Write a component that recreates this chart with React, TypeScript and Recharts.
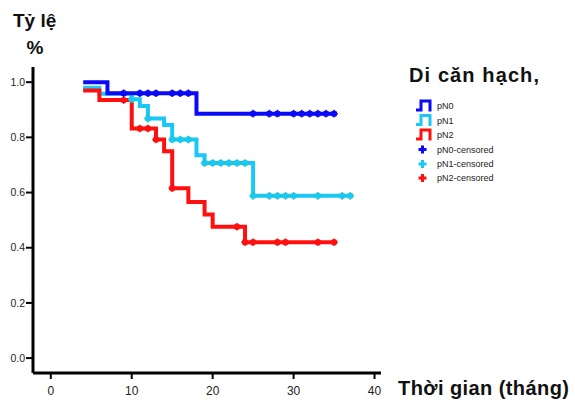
import React from 'react';
import { ComposedChart, Line, Scatter, XAxis, YAxis, Legend } from 'recharts';

// ---- data ----
const xTicks = [0, 10, 20, 30, 40];
const yTicks = [0, 0.2, 0.4, 0.6, 0.8, 1.0];

const yTitleTop = 'Tỷ lệ';
const yTitleBottom = '%';
const xTitle = 'Thời gian (tháng)';
const legendTitle = 'Di căn hạch,';

const seriesNames = ['pN0', 'pN1', 'pN2'];
const censorNames = ['pN0-censored', 'pN1-censored', 'pN2-censored'];

const pN0Times = [4, 7, 18, 35];
const pN0Surv = [1.0, 0.96, 0.886, 0.886];
const pN0CensorTimes = [9, 11, 12, 13, 15, 16, 17, 25, 27, 28, 30, 31, 32, 33, 34, 35];

const pN1Times = [4, 6, 10, 11, 12, 14, 15, 18, 19, 25, 37];
const pN1Surv = [0.98, 0.958, 0.938, 0.914, 0.868, 0.845, 0.792, 0.735, 0.707, 0.588, 0.588];
const pN1CensorTimes = [10, 12, 15, 16, 17, 19, 20, 21, 22, 23, 24, 25, 27, 28, 29, 30, 33, 36, 37];

const pN2Times = [4, 6, 10, 13, 14, 15, 17, 19, 20, 24, 35];
const pN2Surv = [0.97, 0.935, 0.832, 0.792, 0.75, 0.616, 0.566, 0.52, 0.476, 0.42, 0.42];
const pN2CensorTimes = [9, 11, 12, 13, 15, 23, 24, 25, 28, 29, 33, 35];

// ---- helpers ----
const toPoints = (times: number[], surv: number[]) => times.map((t, i) => ({ t, s: surv[i] }));
const survAt = (times: number[], surv: number[], t: number) => {
  let v = surv[0];
  times.forEach((tt, i) => {
    if (tt <= t) v = surv[i];
  });
  return v;
};
const toCensors = (times: number[], surv: number[], cts: number[]) =>
  cts.map((t) => ({ t, s: survAt(times, surv, t) }));

const pN0Data = toPoints(pN0Times, pN0Surv);
const pN1Data = toPoints(pN1Times, pN1Surv);
const pN2Data = toPoints(pN2Times, pN2Surv);
const pN0Cens = toCensors(pN0Times, pN0Surv, pN0CensorTimes);
const pN1Cens = toCensors(pN1Times, pN1Surv, pN1CensorTimes);
const pN2Cens = toCensors(pN2Times, pN2Surv, pN2CensorTimes);

const BLUE = '#0a0af5';
const CYAN = '#19c8f5';
const RED = '#ff1010';
const colors = [BLUE, CYAN, RED];
const armColors = [BLUE, '#3cbf4a', RED];

const FONT = '"Liberation Sans", Arial, sans-serif';

const censorShape = (color: string, arm: string) => (props: any) => {
  const { cx, cy } = props;
  if (cx == null || cy == null) return <g />;
  return (
    <g>
      <line x1={cx - 3.8} x2={cx + 3.8} y1={cy} y2={cy} stroke={arm} strokeWidth={1.3} />
      <line x1={cx} x2={cx} y1={cy - 3.8} y2={cy + 3.8} stroke={arm} strokeWidth={1.3} />
      <circle cx={cx} cy={cy} r={3.2} fill={color} />
    </g>
  );
};

const LegendBox = () => {
  const rows = [9, 23.5, 38, 52.5, 67, 81];
  return (
    <svg width={170} height={92} style={{ display: 'block' }}>
      {seriesNames.map((n, i) => {
        const c = rows[i];
        return (
          <g key={n}>
            <path
              d={`M11,${c + 4} H16 V${c - 5} H25 V${c + 5.5}`}
              fill="none"
              stroke={colors[i]}
              strokeWidth={3}
            />
            <text x={32} y={c} dy="0.35em" fontSize={9} fontFamily={FONT} fill="#222">
              {n}
            </text>
          </g>
        );
      })}
      {censorNames.map((n, i) => {
        const c = rows[i + 3];
        return (
          <g key={n}>
            <line x1={13.5} x2={21.5} y1={c} y2={c} stroke={colors[i]} strokeWidth={3} />
            <line x1={17.5} x2={17.5} y1={c - 4} y2={c + 4} stroke={colors[i]} strokeWidth={3} />
            <text x={32} y={c} dy="0.35em" fontSize={9} fontFamily={FONT} fill="#222">
              {n}
            </text>
          </g>
        );
      })}
    </svg>
  );
};

export default function App() {
  return (
    <div style={{ position: 'absolute', left: 0, top: 0, width: 575, height: 403, background: '#fff' }}>
      <ComposedChart
        width={575}
        height={403}
        margin={{ top: 67, right: 194, bottom: 0, left: 0 }}
      >
        <XAxis
          dataKey="t"
          type="number"
          domain={[-2.2, 40.8]}
          ticks={xTicks}
          allowDataOverflow
          height={30}
          stroke="#000"
          axisLine={{ stroke: '#000', strokeWidth: 3 }}
          tickLine={{ stroke: '#000', strokeWidth: 2 }}
          tickSize={6}
          tickMargin={7}
          tick={{ fontSize: 12, fill: '#222', fontFamily: FONT }}
        />
        <YAxis
          dataKey="s"
          type="number"
          domain={[-0.054, 1.055]}
          ticks={yTicks}
          allowDataOverflow
          width={33}
          stroke="#000"
          axisLine={{ stroke: '#000', strokeWidth: 3 }}
          tickLine={{ stroke: '#000', strokeWidth: 2 }}
          tickSize={7}
          tickMargin={1}
          tickFormatter={(v: number) => v.toFixed(1)}
          tick={{ fontSize: 10.5, fill: '#222', fontFamily: FONT }}
        />
        <Line data={pN1Data} dataKey="s" name={seriesNames[1]} type="stepAfter" stroke={CYAN} strokeWidth={4} dot={false} activeDot={false} isAnimationActive={false} />
        <Line data={pN2Data} dataKey="s" name={seriesNames[2]} type="stepAfter" stroke={RED} strokeWidth={4} dot={false} activeDot={false} isAnimationActive={false} />
        <Line data={pN0Data} dataKey="s" name={seriesNames[0]} type="stepAfter" stroke={BLUE} strokeWidth={4} dot={false} activeDot={false} isAnimationActive={false} />
        <Scatter data={pN1Cens} dataKey="s" name={censorNames[1]} shape={censorShape(CYAN, armColors[1])} isAnimationActive={false} />
        <Scatter data={pN2Cens} dataKey="s" name={censorNames[2]} shape={censorShape(RED, armColors[2])} isAnimationActive={false} />
        <Scatter data={pN0Cens} dataKey="s" name={censorNames[0]} shape={censorShape(BLUE, armColors[0])} isAnimationActive={false} />
        <Legend
          layout="horizontal"
          verticalAlign="middle"
          align="center"
          wrapperStyle={{ left: 405, top: 97, width: 170, height: 92 }}
          content={() => <LegendBox />}
        />
      </ComposedChart>
      <svg
        width={575}
        height={403}
        style={{ position: 'absolute', left: 0, top: 0, pointerEvents: 'none' }}
      >
        <text x={13} y={27} fontSize={19} fontWeight="bold" fontFamily={FONT} fill="#111">
          {yTitleTop}
        </text>
        <text x={35} y={54} textAnchor="middle" fontSize={19} fontWeight="bold" fontFamily={FONT} fill="#111">
          {yTitleBottom}
        </text>
        <text x={409} y={82} fontSize={20} fontWeight="bold" fontFamily={FONT} fill="#111" textLength={130}>
          {legendTitle}
        </text>
        <text x={398} y={395} fontSize={20} fontWeight="bold" fontFamily={FONT} fill="#111" textLength={171}>
          {xTitle}
        </text>
      </svg>
    </div>
  );
}
